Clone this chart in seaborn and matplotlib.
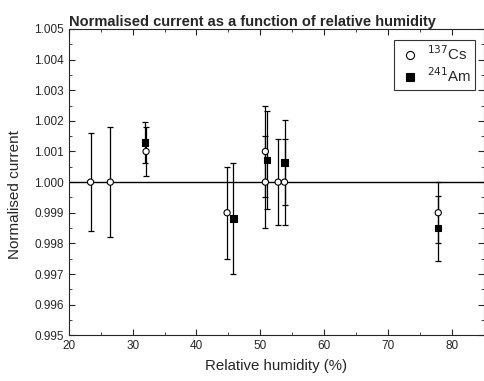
import numpy as np
import pandas as pd
import seaborn as sns
import matplotlib.pyplot as plt
from matplotlib.ticker import MultipleLocator, FormatStrFormatter

# Datos
cs_rh = [23.4, 26.5, 32.1, 44.8, 50.8, 50.8, 52.8, 53.8, 77.9]
cs_current = [1.0000, 1.0000, 1.0010, 0.9990, 1.0010, 1.0000, 1.0000, 1.0000, 0.9990]
cs_err = [0.0016, 0.0018, 0.0008, 0.0015, 0.0015, 0.0015, 0.0014, 0.0014, 0.0010]

am_rh = [31.9, 45.8, 51.0, 53.8, 77.8]
am_current = [1.00129, 0.99881, 1.00073, 1.00064, 0.99849]
am_err = [0.00066, 0.0018, 0.0016, 0.0014, 0.00107]

labels = ["$^{137}$Cs", "$^{241}$Am"]

df = pd.concat([
    pd.DataFrame({"rh": cs_rh, "current": cs_current, "err": cs_err, "source": labels[0]}),
    pd.DataFrame({"rh": am_rh, "current": am_current, "err": am_err, "source": labels[1]}),
], ignore_index=True)

sns.set_style("ticks")
plt.rcParams["font.family"] = ["Liberation Sans", "DejaVu Sans"]

fig, ax = plt.subplots(figsize=(4.85, 3.81), dpi=100)
fig.subplots_adjust(left=0.142, right=0.997, top=0.924, bottom=0.12)

ax.axhline(1.0, color="black", lw=1.0, zorder=1)

for src in labels:
    d = df[df["source"] == src]
    ax.errorbar(d["rh"], d["current"], yerr=d["err"], fmt="none", ecolor="black",
                elinewidth=0.9, capsize=2.2, capthick=0.9, zorder=2)

sns.scatterplot(data=df, x="rh", y="current", hue="source", style="source",
                markers={labels[0]: "o", labels[1]: "s"},
                palette={labels[0]: "white", labels[1]: "black"},
                edgecolor="black", linewidth=0.8, s=20, ax=ax, zorder=3)

ax.set_xlim(20, 85)
ax.set_ylim(0.995, 1.005)
ax.xaxis.set_major_locator(MultipleLocator(10))
ax.xaxis.set_minor_locator(MultipleLocator(5))
ax.yaxis.set_major_locator(MultipleLocator(0.001))
ax.yaxis.set_minor_locator(MultipleLocator(0.0005))
ax.yaxis.set_major_formatter(FormatStrFormatter("%.3f"))
ax.tick_params(which="both", direction="in", top=True, right=True, labelsize=8.5)
ax.tick_params(which="major", length=4)
ax.tick_params(which="minor", length=2.5)

ax.set_xlabel("Relative humidity (%)", fontsize=10.8, labelpad=5)
ax.set_ylabel("Normalised current", fontsize=11)
ax.yaxis.set_label_coords(-0.112, 0.46)
ax.set_title("Normalised current as a function of relative humidity",
             fontsize=10.5, fontweight="bold", loc="left", pad=2)

h, l = ax.get_legend_handles_labels()
leg = ax.legend(h, l, loc="upper right", fontsize=10.8, frameon=True, fancybox=False,
                edgecolor="black", borderpad=0.3, handletextpad=0.3, handlelength=1.6,
                markerscale=1.3, labelspacing=0.25, borderaxespad=0,
                bbox_to_anchor=(0.98, 0.965))
leg.get_frame().set_linewidth(0.8)

for s in ax.spines.values():
    s.set_linewidth(0.8)

plt.savefig("out.png", dpi=100)
